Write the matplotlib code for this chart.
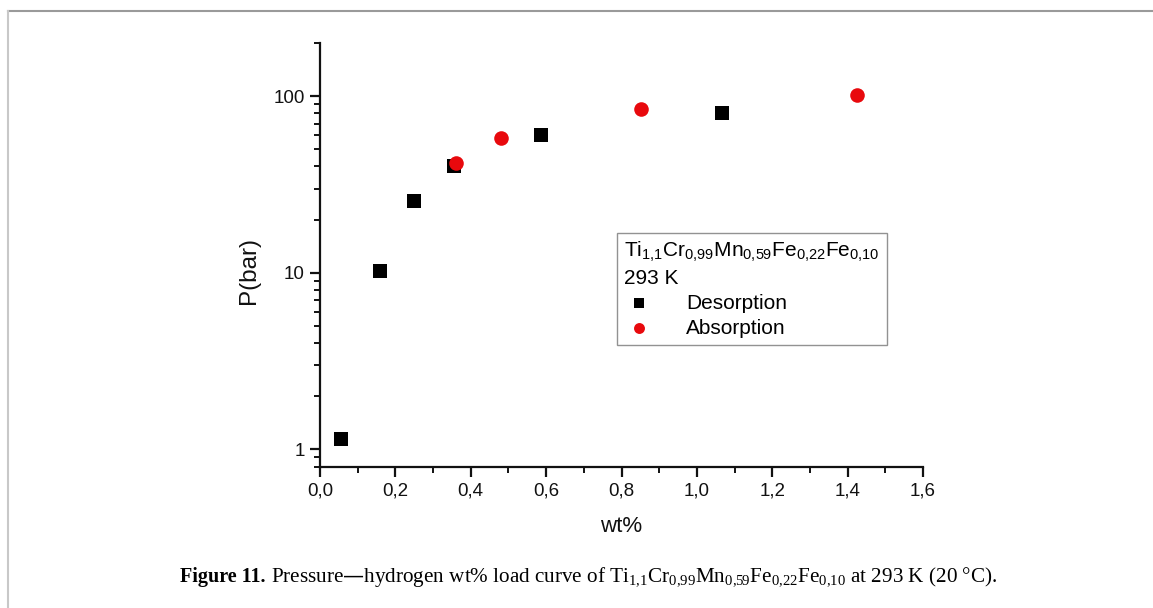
import matplotlib
matplotlib.use("Agg")
import matplotlib.pyplot as plt
from matplotlib.ticker import LogLocator, MultipleLocator, FixedLocator, NullFormatter
from matplotlib.lines import Line2D

plt.rcParams['font.family'] = ['Liberation Sans', 'DejaVu Sans']
plt.rcParams['mathtext.default'] = 'regular'

# Data
des_x = [0.056, 0.160, 0.250, 0.355, 0.587, 1.067]
des_y = [1.14, 10.3, 25.4, 40.1, 60.1, 80.1]
abs_x = [0.360, 0.480, 0.851, 1.424]
abs_y = [41.7, 57.8, 84.4, 101.0]
x_ticks = [0.0, 0.2, 0.4, 0.6, 0.8, 1.0, 1.2, 1.4, 1.6]
x_tick_labels = ['0,0', '0,2', '0,4', '0,6', '0,8', '1,0', '1,2', '1,4', '1,6']
y_ticks = [1, 10, 100]
y_tick_labels = ['1', '10', '100']

W, H = 1153, 608
fig = plt.figure(figsize=(W / 100, H / 100), dpi=100)

# figure frame lines (top and left)
fig.add_artist(Line2D([8 / W, 1], [1 - 11 / H, 1 - 11 / H], color='#9a9a9a', lw=1.5,
                      transform=fig.transFigure))
fig.add_artist(Line2D([8 / W, 8 / W], [0, 1 - 11 / H], color='#c8c8c8', lw=1.5,
                      transform=fig.transFigure))

ax = fig.add_axes([320 / W, 1 - 467 / H, 603 / W, (467 - 43) / H])
ax.set_yscale('log')
ax.set_xlim(0, 1.6)
ax.set_ylim(0.795, 200)

ax.scatter(des_x, des_y, marker='s', s=95, color='black', zorder=3, label='Desorption', linewidths=0)
ax.scatter(abs_x, abs_y, marker='o', s=110, color='#e8090d', zorder=4, label='Absorption', linewidths=0)

for s in ['top', 'right']:
    ax.spines[s].set_visible(False)
for s in ['left', 'bottom']:
    ax.spines[s].set_linewidth(1.6)
    ax.spines[s].set_color('#111111')

ax.xaxis.set_major_locator(FixedLocator(x_ticks))
ax.set_xticklabels(x_tick_labels)
ax.xaxis.set_minor_locator(MultipleLocator(0.1))
ax.yaxis.set_major_locator(FixedLocator(y_ticks))
ax.set_yticklabels(y_tick_labels)
ax.yaxis.set_minor_locator(LogLocator(base=10, subs=range(2, 10)))
ax.yaxis.set_minor_formatter(NullFormatter())

ax.tick_params(which='major', direction='out', length=7, width=1.6, labelsize=13.5,
               colors='#111111', pad=4)
ax.tick_params(which='minor', direction='out', length=4, width=1.4, colors='#111111')

ax.set_xlabel('wt%', fontsize=16, labelpad=12, color='#111111')
ax.set_ylabel('P(bar)', fontsize=17.5, color='#111111')
ax.yaxis.set_label_coords((260 - 320) / 603, (467 - 271) / 424)

leg_title = ('$Ti_{1{,}1}Cr_{0{,}99}Mn_{0{,}59}Fe_{0{,}22}Fe_{0{,}10}$\n293 K')
leg = ax.legend(title=leg_title, loc='upper left',
                bbox_to_anchor=((617 - 320) / 603, 1 - (233 - 43) / 424),
                fontsize=15, title_fontsize=15, frameon=True, fancybox=False,
                edgecolor='#777777', borderpad=0.35, handletextpad=1.55, labelspacing=0.3,
                handlelength=1.4, markerscale=0.75, borderaxespad=0)
leg._legend_box.align = 'left'
leg._legend_box.sep = 4
leg.get_title().set_linespacing(1.3)
leg.get_frame().set_linewidth(1.0)

# caption
cy = 1 - 577 / H
fig.text(180 / W, cy, 'Figure 11.', fontsize=14.5, fontweight='bold', family='Liberation Serif',
         ha='left', va='center')
fig.text(271 / W, cy, 'Pressure\u2014hydrogen wt% load curve of '
         '$Ti_{1{,}1}Cr_{0{,}99}Mn_{0{,}59}Fe_{0{,}22}Fe_{0{,}10}$ at 293 K (20 \u00b0C).',
         fontsize=15.2, family='Liberation Serif', ha='left', va='center')

fig.savefig('out.png', dpi=100)
